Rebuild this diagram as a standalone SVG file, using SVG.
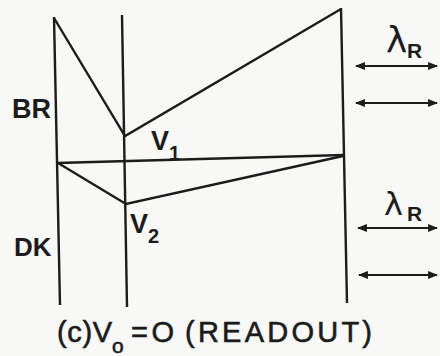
<svg xmlns="http://www.w3.org/2000/svg" width="440" height="356" viewBox="0 0 440 356">
<defs>
<style>
.ln{stroke:#1c1c1c;stroke-width:2.4;fill:none;stroke-linejoin:miter;stroke-linecap:butt}
.ar{stroke:#1c1c1c;stroke-width:2.2;fill:none;marker-start:url(#h);marker-end:url(#h)}
.t{font-family:"Liberation Sans",Arial,sans-serif;font-weight:bold;fill:#1c1c1c}
.c{font-family:"Liberation Sans",Arial,sans-serif;fill:#1c1c1c;stroke:#1c1c1c;stroke-width:0.6}
.lam{font-family:"DejaVu Sans",sans-serif;fill:#1c1c1c}
</style>
<marker id="h" viewBox="0 0 10 8" refX="9" refY="4" markerWidth="4.5" markerHeight="3.6" orient="auto-start-reverse" markerUnits="strokeWidth">
<path d="M0,0 L10,4 L0,8 Z" fill="#1c1c1c"/>
</marker>
</defs>
<rect width="440" height="356" fill="#f8f8f6"/>
<g id="connectors">
<path class="ln" d="M54,17 L60,305"/>
<path class="ln" d="M122,15 L127,307"/>
<path class="ln" d="M341,8 L347,303"/>
<path class="ln" d="M54,18 L125,136 L341,9"/>
<path class="ln" d="M57,163 L344,155"/>
<path class="ln" d="M58,163 L126,204 L343,156"/>
<path class="ar" d="M356,66 L437,66"/>
<path class="ar" d="M356,103 L437,103"/>
<path class="ar" d="M358,228 L437,228"/>
<path class="ar" d="M359,275 L437,275"/>
</g>
<g id="label-BR"><text class="t" x="12" y="118" font-size="27">BR</text></g>
<g id="label-DK"><text class="t" x="14" y="256" font-size="26">DK</text></g>
<g id="label-V1"><text class="t" x="151" y="150" font-size="27">V</text><text class="t" x="169" y="160" font-size="20">1</text></g>
<g id="label-V2"><text class="t" x="130" y="233" font-size="27">V</text><text class="t" x="148" y="243" font-size="20">2</text></g>
<g id="label-lambda1"><text class="lam" x="386" y="52" font-size="36">λ</text><text class="t" x="407" y="58" font-size="21">R</text></g>
<g id="label-lambda2"><text class="lam" x="384" y="215" font-size="32">λ</text><text class="t" x="407" y="221" font-size="21">R</text></g>
<g id="caption">
<text class="c" x="57" y="342" font-size="29" textLength="55" lengthAdjust="spacing">(c)V</text>
<text class="c" x="112" y="353" font-size="21">o</text>
<text class="c" x="131" y="342" font-size="29" textLength="43" lengthAdjust="spacing">=O</text>
<text class="c" x="185" y="342" font-size="29" textLength="187" lengthAdjust="spacing">(READOUT)</text>
</g>
</svg>
